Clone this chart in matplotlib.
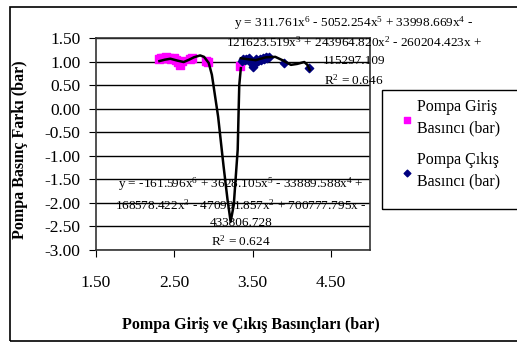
import matplotlib
matplotlib.use('Agg')
import matplotlib.pyplot as plt
from matplotlib.patches import Rectangle

plt.rcParams['font.family'] = ['Liberation Serif', 'DejaVu Serif']
plt.rcParams['mathtext.fontset'] = 'custom'
plt.rcParams['mathtext.rm'] = 'Liberation Serif'
plt.rcParams['mathtext.default'] = 'regular'

# pump inlet pressure points (pink squares)
giris_x = [2.30, 2.33, 2.36, 2.40, 2.43, 2.46, 2.49, 2.52, 2.55, 2.57, 2.60,
           2.70, 2.73, 2.91, 2.93, 3.34]
giris_y = [1.06, 1.08, 1.07, 1.09, 1.08, 1.05, 1.08, 1.03, 0.98, 0.93, 1.02,
           1.06, 1.08, 1.01, 0.98, 0.90]

# pump outlet pressure points (navy diamonds)
cikis_x = [3.36, 3.38, 3.40, 3.42, 3.44, 3.46, 3.48, 3.50, 3.51, 3.53, 3.55,
           3.57, 3.59, 3.61, 3.63, 3.65, 3.67, 3.69, 3.71, 3.90, 4.22]
cikis_y = [1.02, 1.05, 1.03, 1.06, 1.04, 1.07, 1.02, 0.92, 0.88, 0.97, 1.05,
           1.02, 1.06, 1.04, 1.08, 1.06, 1.09, 1.07, 1.10, 0.97, 0.86]

# trendlines
trend_g_x = [2.31, 2.38, 2.45, 2.54, 2.62, 2.69, 2.75, 2.83, 2.88, 2.94, 2.98,
             3.00, 3.06, 3.13, 3.18, 3.22, 3.26, 3.28, 3.31, 3.32, 3.33, 3.35]
trend_g_y = [1.01, 1.04, 1.06, 1.02, 0.99, 1.04, 1.09, 1.13, 1.10, 0.97, 0.72,
             0.50, -0.17, -1.23, -1.93, -2.40, -2.04, -1.57, -0.87, -0.17, 0.50, 0.86]
trend_c_x = [3.35, 3.44, 3.54, 3.67, 3.79, 3.88, 3.99, 4.07, 4.16, 4.20, 4.23]
trend_c_y = [1.07, 1.05, 1.03, 1.09, 1.10, 1.03, 0.93, 0.95, 0.99, 0.93, 0.82]

yticks = [1.5, 1.0, 0.5, 0.0, -0.5, -1.0, -1.5, -2.0, -2.5, -3.0]
xticks = [1.5, 2.5, 3.5, 4.5]

W, H = 517, 350
fig = plt.figure(figsize=(W / 100, H / 100), dpi=100)
ax = fig.add_axes([96 / W, 1 - 250 / H, (370 - 96) / W, (250 - 38) / H])

for yv in yticks:
    ax.axhline(yv, color='black', linewidth=1.0, zorder=1)

ax.plot(trend_g_x, trend_g_y, color='black', linewidth=1.8, zorder=3)
ax.plot(trend_c_x, trend_c_y, color='black', linewidth=1.8, zorder=3)
ax.scatter(giris_x, giris_y, marker='s', s=30, color='#ff00ff', zorder=2,
           label='Pompa Giriş\nBasıncı (bar)')
ax.scatter(cikis_x, cikis_y, marker='D', s=18, color='#000080', zorder=2,
           label='Pompa Çıkış\nBasıncı (bar)')

ax.set_xlim(1.5, 5.0)
ax.set_ylim(-3.0, 1.5)
ax.set_xticks(xticks)
ax.set_xticklabels([f'{v:.2f}' for v in xticks])
ax.set_yticks(yticks)
ax.set_yticklabels([f'{v:.2f}' for v in yticks])
ax.tick_params(axis='x', direction='out', length=5, pad=13, labelsize=12.5)
ax.tick_params(axis='y', direction='out', length=5, pad=6, labelsize=12.5)
for s in ax.spines.values():
    s.set_linewidth(1.2)
    s.set_color('#333333')

# trendline equations
top_eq = [r'y = 311.761x$^{6}$ - 5052.254x$^{5}$ + 33998.669x$^{4}$ -',
          r'121623.519x$^{3}$ + 243964.820x$^{2}$ - 260204.423x +',
          '115297.109',
          r'R$^{2}$ = 0.646']
top_y = [23, 42, 61, 80]
for t, py in zip(top_eq, top_y):
    fig.text(354 / W, 1 - py / H, t, ha='center', va='center', fontsize=9.5)

bot_eq = [r'y = -161.596x$^{6}$ + 3628.105x$^{5}$ - 33889.588x$^{4}$ +',
          r'168578.422x$^{3}$ - 470991.857x$^{2}$ + 700777.795x -',
          '433806.728',
          r'R$^{2}$ = 0.624']
bot_y = [184, 205, 223, 241]
for t, py in zip(bot_eq, bot_y):
    fig.text(241 / W, 1 - py / H, t, ha='center', va='center', fontsize=9.5)

fig.text(20 / W, 1 - 150 / H, 'Pompa Basınç Farkı (bar)', rotation=90,
         ha='center', va='center', fontsize=11.5, fontweight='bold')
fig.text(251 / W, 1 - 325 / H, 'Pompa Giriş ve Çıkış Basınçları (bar)',
         ha='center', va='center', fontsize=11.5, fontweight='bold')

# outer chart frame and legend box
fig.patches.append(Rectangle((10 / W, 1 - 341 / H), 1.0, (341 - 7) / H,
                             transform=fig.transFigure, fill=False,
                             edgecolor='black', linewidth=1.2))
fig.patches.append(Rectangle((382 / W, 1 - 209 / H), 0.5, (209 - 90) / H,
                             transform=fig.transFigure, fill=False,
                             edgecolor='black', linewidth=1.0))
leg = fig.legend(loc='upper left', bbox_to_anchor=(400 / W, 1 - 99 / H),
                 frameon=False, fontsize=11.5, handletextpad=0.15,
                 labelspacing=1.0, borderaxespad=0, borderpad=0,
                 markerscale=0.8, handlelength=0.9)
for t in leg.get_texts():
    t.set_linespacing(1.45)

fig.savefig('out.png', dpi=100)
